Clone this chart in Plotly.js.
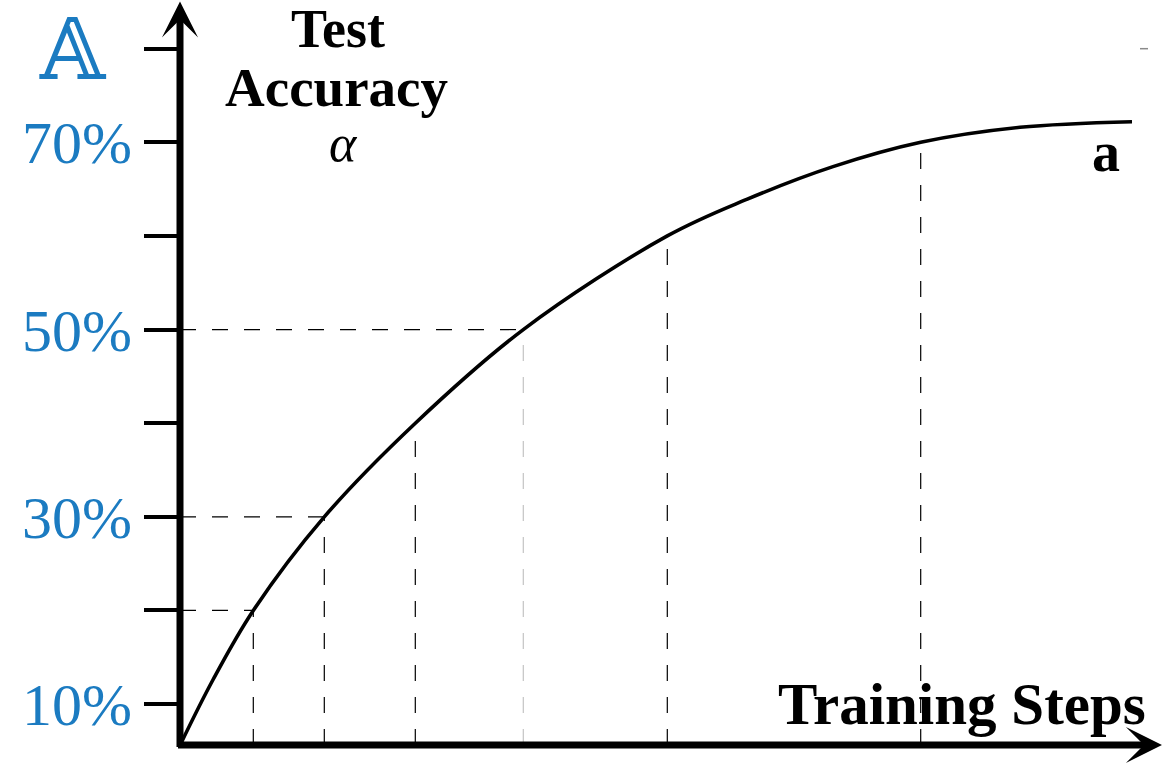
<!DOCTYPE html>
<html>
<head>
<meta charset="utf-8">
<script src="https://cdn.plot.ly/plotly-3.0.1.min.js"></script>
<style>
  html, body { margin: 0; padding: 0; background: #ffffff; }
  #chart { width: 1164px; height: 770px; }
</style>
</head>
<body>
<div id="chart"></div>
<script>
// ---- data ----
const trainingSteps = [0, 0.33, 0.733, 1.443, 2.353, 3.433, 4.873, 5.667, 6.53, 7.407, 8.4, 9.52];
const testAccuracy  = [5.6, 12.6, 20, 30, 40, 50, 60, 63.9, 67.4, 70, 71.6, 72.2];

// points where dashed guide lines meet the curve
const markedSteps    = [0.733, 1.443, 2.353, 3.433, 4.873, 7.407];
const markedAccuracy = [20, 30, 40, 50, 60, 70];
const horizontalGuideAccuracy = [20, 30, 50];

// y tick marks and their labels
const tickValues = [10, 20, 30, 40, 50, 60, 70, 80];
const tickLabels = ['10%', '', '30%', '', '50%', '', '70%', ''];

// text labels
const yTitleLines = ['Test', 'Accuracy'];
const ySymbol = 'α';
const seriesName = 'a';
const xTitle = 'Training Steps';
const panelLetter = '𝔸';

// ---- layout helpers ----
const W = 1164, H = 770;
const M = { l: 180, r: 0, t: 0, b: 25 };
const plotW = W - M.l - M.r, plotH = H - M.t - M.b;
const px2x = X => (X - M.l) / plotW;            // pixel -> paper x
const px2y = Y => (H - M.b - Y) / plotH;        // pixel -> paper y

const yFloor = 5.63, yTop = 85.2;
const xMax = 9.84;
const blue = '#1b7bc1';
const serif = 'Liberation Serif, Times New Roman, serif';

const curve = {
  x: trainingSteps,
  y: testAccuracy,
  type: 'scatter',
  mode: 'lines',
  line: { color: '#000000', width: 3.6, shape: 'spline', smoothing: 1 },
  hoverinfo: 'skip',
  showlegend: false
};

const shapes = [];
markedSteps.forEach((s, i) => {
  shapes.push({
    type: 'line', xref: 'x', yref: 'y',
    x0: s, x1: s, y0: yFloor, y1: markedAccuracy[i],
    line: { color: markedAccuracy[i] === 50 ? '#c4c4c4' : '#000000', width: 1.2, dash: '16px,16px' },
    layer: 'below'
  });
});
horizontalGuideAccuracy.forEach(a => {
  const i = markedAccuracy.indexOf(a);
  shapes.push({
    type: 'line', xref: 'x', yref: 'y',
    x0: 0, x1: markedSteps[i], y0: a, y1: a,
    line: { color: '#000000', width: 1.2, dash: '16px,16px' },
    layer: 'below'
  });
});
// small grey dash at top right
shapes.push({
  type: 'line', xref: 'paper', yref: 'y',
  x0: px2x(1140), x1: px2x(1148), y0: tickValues[tickValues.length - 1], y1: tickValues[tickValues.length - 1],
  line: { color: '#8a8a8a', width: 1.5 }
});

const annotations = [
  // axes with arrow heads
  { xref: 'x', yref: 'y', axref: 'x', ayref: 'y', x: 9.82, y: yFloor, ax: -0.035, ay: yFloor,
    showarrow: true, arrowhead: 3, arrowsize: 0.86, arrowwidth: 7, arrowcolor: '#000000', text: '' },
  { xref: 'x', yref: 'y', axref: 'x', ayref: 'y', x: 0, y: 85.05, ax: 0, ay: 5.26,
    showarrow: true, arrowhead: 3, arrowsize: 0.86, arrowwidth: 7, arrowcolor: '#000000', text: '' },
  // texts
  { xref: 'paper', yref: 'paper', x: px2x(338), y: px2y(29), xanchor: 'center', yanchor: 'middle',
    showarrow: false, text: '<b>' + yTitleLines[0] + '</b>', font: { family: serif, size: 54, color: '#000' } },
  { xref: 'paper', yref: 'paper', x: px2x(336), y: px2y(87), xanchor: 'center', yanchor: 'middle',
    showarrow: false, text: '<b>' + yTitleLines[1] + '</b>', font: { family: serif, size: 55, color: '#000' } },
  { xref: 'paper', yref: 'paper', x: px2x(343), y: px2y(143), xanchor: 'center', yanchor: 'middle',
    showarrow: false, text: '<i>' + ySymbol + '</i>', font: { family: serif, size: 52, color: '#000' } },
  { xref: 'paper', yref: 'paper', x: px2x(1106), y: px2y(152), xanchor: 'center', yanchor: 'middle',
    showarrow: false, text: '<b>' + seriesName + '</b>', font: { family: serif, size: 56, color: '#000' } },
  { xref: 'paper', yref: 'paper', x: px2x(962), y: px2y(704), xanchor: 'center', yanchor: 'middle',
    showarrow: false, text: '<b>' + xTitle + '</b>', font: { family: serif, size: 59, color: '#000' } },
  { xref: 'paper', yref: 'paper', x: px2x(73), y: px2y(50), xanchor: 'center', yanchor: 'middle',
    showarrow: false, text: panelLetter, font: { family: 'DejaVu Serif, DejaVu Sans, serif', size: 84, color: blue } }
];

const layout = {
  width: W, height: H,
  margin: M,
  paper_bgcolor: '#ffffff',
  plot_bgcolor: '#ffffff',
  showlegend: false,
  xaxis: { range: [0, xMax], visible: false, fixedrange: true },
  yaxis: {
    range: [yFloor, yTop],
    tickmode: 'array', tickvals: tickValues, ticktext: tickLabels,
    ticks: 'outside', ticklen: 35, tickwidth: 4, tickcolor: '#000000',
    tickfont: { family: serif, size: 60, color: blue },
    showline: false, showgrid: false, zeroline: false, automargin: false, fixedrange: true
  },
  shapes: shapes,
  annotations: annotations
};

Plotly.newPlot('chart', [curve], layout, { displayModeBar: false, staticPlot: true });
</script>
</body>
</html>
